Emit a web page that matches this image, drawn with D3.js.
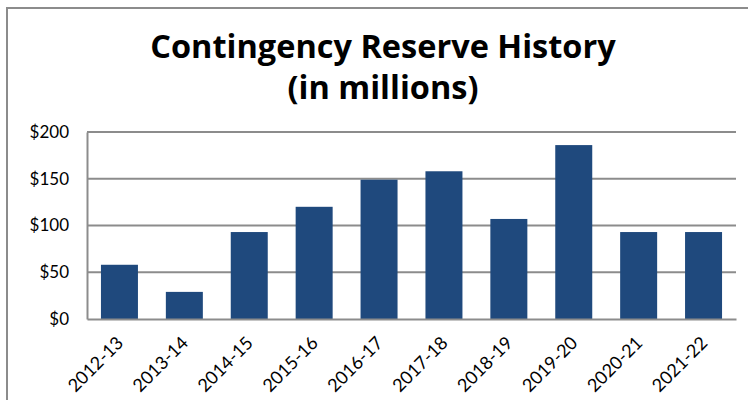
<!DOCTYPE html>
<html>
<head>
<meta charset="utf-8">
<script src="https://cdn.jsdelivr.net/npm/d3@7"></script>
<style>
  html, body { margin: 0; padding: 0; background: #fff; }
  svg { display: block; }
</style>
</head>
<body>
<svg id="chart" width="748" height="400"></svg>
<script>
// Fiscal years and reserve balance ($ millions)
const categories = ["2012-13", "2013-14", "2014-15", "2015-16", "2016-17",
                    "2017-18", "2018-19", "2019-20", "2020-21", "2021-22"];
const reserve = [58, 29, 93, 120, 149, 158, 107, 186, 93, 93];
const yTicks = [0, 50, 100, 150, 200];
const titleLines = ["Contingency Reserve History", "(in millions)"];

const W = 748, H = 400;
const margin = { left: 87, right: 12, top: 132, bottom: 81 };
const svg = d3.select("#chart");
const font = "Lato, 'Open Sans', sans-serif";

// outer frame of the chart box
svg.append("path")
  .attr("d", `M7,${H} V8 H${W}`)
  .attr("fill", "none")
  .attr("stroke", "#8c8c8c")
  .attr("stroke-width", 2);

// title
const title = svg.append("g").attr("font-family", "'Open Sans', sans-serif").attr("font-weight", 700)
  .attr("font-size", 32.5).attr("text-anchor", "middle").attr("fill", "#000");
title.selectAll("text").data(titleLines).join("text")
  .attr("x", 383).attr("y", (d, i) => 58 + i * 41)
  .text(d => d);

const x = d3.scaleBand()
  .domain(categories)
  .range([margin.left, W - margin.right])
  .paddingInner(0.43)
  .paddingOuter(0.215);

const y = d3.scaleLinear()
  .domain([0, 200])
  .range([H - margin.bottom, margin.top]);

// horizontal gridlines
svg.append("g")
  .selectAll("line").data(yTicks.filter(d => d > 0)).join("line")
  .attr("x1", margin.left).attr("x2", W - margin.right)
  .attr("y1", d => y(d)).attr("y2", d => y(d))
  .attr("stroke", "#8c8c8c").attr("stroke-width", 2);

// bars
svg.append("g")
  .selectAll("rect").data(reserve).join("rect")
  .attr("x", (d, i) => x(categories[i]))
  .attr("y", d => y(d))
  .attr("width", x.bandwidth())
  .attr("height", d => y(0) - y(d))
  .attr("fill", "#1f497d");

// y axis
const yAxis = svg.append("g")
  .attr("transform", `translate(${margin.left},0)`)
  .call(d3.axisLeft(y).tickValues(yTicks).tickSize(0).tickPadding(18)
    .tickFormat(d => "$" + d));
yAxis.select(".domain").attr("stroke", "#8c8c8c").attr("stroke-width", 2);
yAxis.selectAll("text").attr("font-family", font).attr("font-size", 17).attr("fill", "#000");

// x axis
const xAxis = svg.append("g")
  .attr("transform", `translate(0,${y(0)})`)
  .call(d3.axisBottom(x).tickSize(0).tickPadding(0));
xAxis.select(".domain").attr("stroke", "#8c8c8c").attr("stroke-width", 2);
xAxis.selectAll("text")
  .attr("font-family", font).attr("font-size", 18).attr("fill", "#000")
  .attr("text-anchor", "end")
  .attr("y", 0)
  .attr("dy", null)
  .attr("transform", "translate(5,25) rotate(-45)");
</script>
</body>
</html>
